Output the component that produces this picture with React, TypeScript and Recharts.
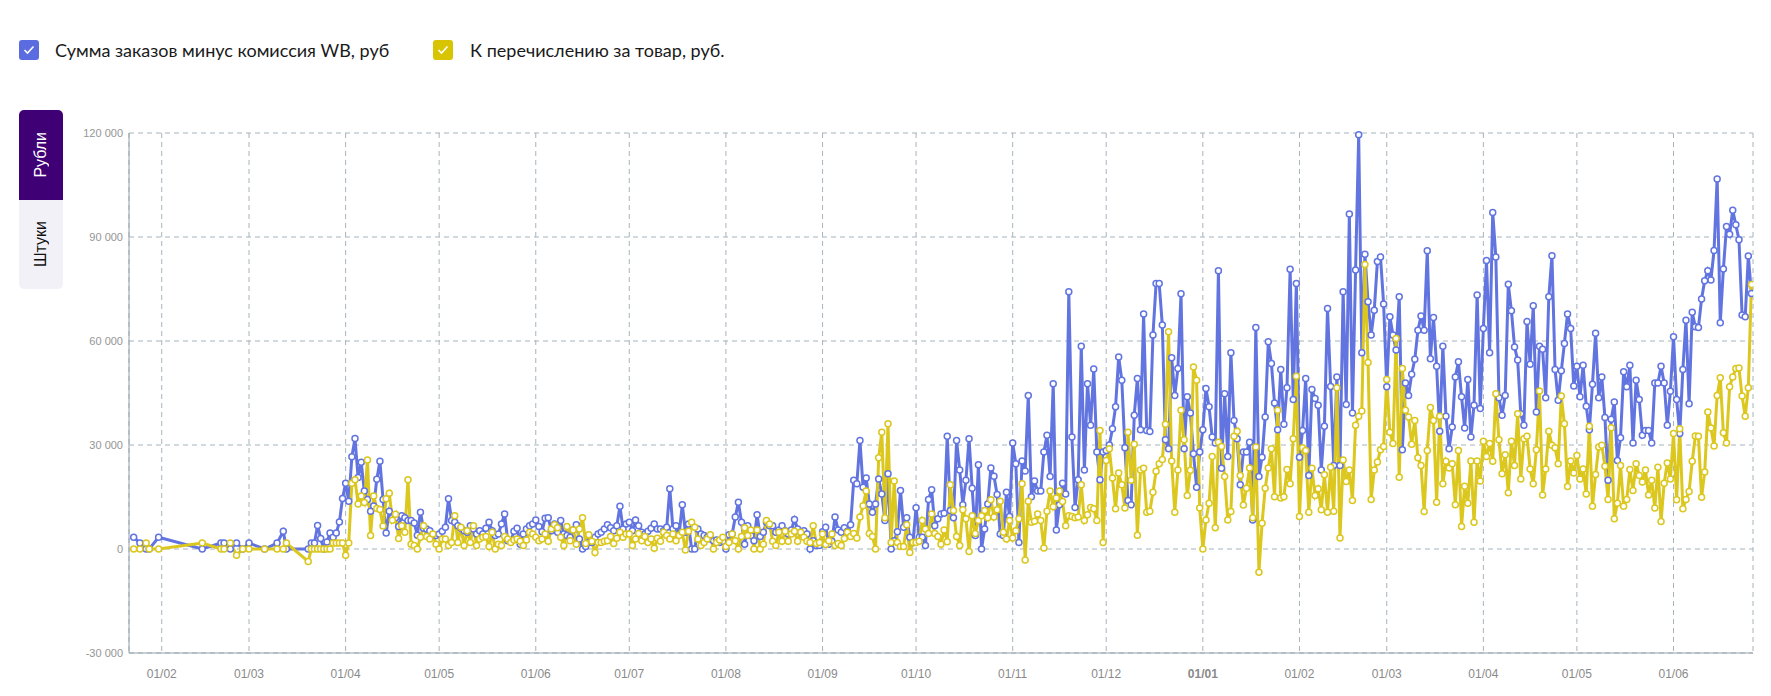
import React from 'react';
import { LineChart, Line, XAxis, YAxis, CartesianGrid } from 'recharts';

type V = number | null;
const _ = null;

// ---- data (rubles), one array per month; null = no data that day ----
// January 2022 starts on the 22nd
const blueJan22: V[] = [_, 3400, _, 1700, _, 0, 0, _, _, 3400];
const yellowJan22: V[] = [_, 0, _, 0, _, 1700, 0, _, _, 0];

const blueFeb22: V[] = [_, _, _, _, _, _, _, _, _, _, _, _, _, 0, _, _, _, _, _, 1700, 1700, _, 0, _, 1700, _, 0, _];
const yellowFeb22: V[] = [_, _, _, _, _, _, _, _, _, _, _, _, _, 1700, _, _, _, _, _, 0, 0, _, 1700, _, -1800, _, 0, _];

const blueMar22: V[] = [1700, _, _, _, _, 0, _, _, _, 1700, _, 5100, 0, _, _, _, _, _, _, 0, 1700, 1700, 6800, 3000, 0, 2000, 4600, 3400, 4600, 7800, 14600];
const yellowMar22: V[] = [0, _, _, _, _, 0, _, _, _, 0, _, 0, 1700, _, _, _, _, _, _, -3600, 0, 0, 0, 0, 0, 0, 0, 1700, 1700, 1700, 1700];

const blueApr22: V[] = [19000, 13800, 26600, 31900, 20600, 25000, 16700, 14300, 10900, 12400, 20100, 25300, 14300, 4600, 10900, 9000, 9000, 6500, 9600, 9000, 8200, 8200, 7500, 4000, 10600, 6000, 5800, 5300, 4000, 3900];
const yellowApr22: V[] = [-1800, 1700, 19000, 20000, 13000, 15300, 13400, 25700, 3900, 15300, 11700, 11400, 6600, 14500, 16100, 8300, 10000, 3000, 6700, 4800, 20000, 1400, 1000, 0, 3400, 6700, 3600, 2900, 4300, 1400];

const blueMay22: V[] = [4300, 5100, 6300, 14500, 8200, 7700, 6700, 6000, 5300, 4800, 6700, 5800, 4300, 5300, 4300, 6000, 7700, 5300, 3900, 4300, 7200, 10100, 2400, 2200, 5100, 6000, 1400, 4300, 5800, 6700, 7200];
const yellowMay22: V[] = [0, 2900, 2900, 1000, 1900, 9600, 1900, 6300, 1000, 5300, 1900, 6700, 1000, 2900, 3400, 3600, 700, 4800, 0, 1400, 1000, 3600, 2900, 1900, 2600, 2900, 2200, 1000, 2600, 4800, 4300];

const blueJun22: V[] = [8400, 6500, 5000, 8900, 9000, 5300, 7200, 4800, 8200, 4300, 3900, 3400, 5500, 7000, 2900, 0, 700, 1900, 1900, 3400, 4300, 4800, 5800, 7000, 6100, 5300, 6700, 12300, 5800, 7200];
const yellowJun22: V[] = [3400, 2400, 2900, 4300, 2200, 5800, 7000, 6100, 3400, 1000, 6500, 2400, 5500, 1400, 5800, 9000, 1600, 4100, 2200, -1000, 1900, 1900, 2200, 2400, 3600, 1600, 3100, 4800, 3400, 4300];

const blueJul22: V[] = [7700, 5300, 8400, 6700, 4800, 4300, 5100, 6000, 7200, 5800, 5800, 5300, 6300, 17400, 5800, 6700, 4300, 12800, 4800, 7200, 0, 0, 5800, 4300, 3900, 3400, 2900, 2400, 2600, 1900, 2200];
const yellowJul22: V[] = [4300, 1000, 2900, 4500, 2400, 3600, 1900, 2900, 200, 3100, 2200, 4800, 3900, 2900, 4300, 2400, 3900, 4800, -300, 5100, 7700, 6300, 2900, 1000, 1900, 2900, 4100, 0, 1900, 2600, 3400];

const blueAug22: V[] = [0, 4100, 4300, 9200, 13500, 7700, 1400, 6700, 3800, 2400, 9900, 3600, 4800, 7700, 6700, 6700, 4800, 5500, 6700, 5300, 4300, 5500, 8500, 5800, 4800, 5300, 4300, 0, 2400, 1000, 1000];
const yellowAug22: V[] = [700, 1900, 4300, 2400, 0, 3600, 6100, 3900, 5500, 0, 5500, 0, 1400, 8200, 7200, 2200, 1000, 4800, 2200, 5100, 2200, 4300, 5100, 2200, 4800, 3400, 2200, 1900, 6700, 1600, 1900];

const blueSep22: V[] = [5000, 6300, 1400, 2200, 9200, 5500, 4800, 6100, 5100, 7000, 19800, 18800, 31300, 17800, 20500, 13000, 10600, 13000, 20200, 15900, 8200, 21700, 0, 2400, 5000, 16900, 6300, 9000, 3400, 1900];
const yellowSep22: V[] = [4300, 1300, 2400, 4300, 1000, 1600, 1000, 3000, 4800, 3600, 4500, 3200, 9200, 12500, 16700, 4500, 3600, 0, 26300, 33700, 9000, 36100, 1900, 19600, 1900, 700, 700, 7000, -1000, 1900];

const blueOct22: V[] = [11900, 3400, 3400, 1000, 14300, 17100, 6700, 8700, 10100, 10300, 32500, 11100, 9000, 31300, 22800, 12800, 19800, 31800, 17500, 3900, 24300, 0, 5800, 13000, 23400, 21000, 15700, 4300, 3900, 16400, 9400];
const yellowOct22: V[] = [1900, 2200, 8200, 5800, 4500, 10100, 4500, 3600, 1400, 5500, 2100, 18500, 11100, 3600, 1000, 11300, 8700, -700, 9600, 4500, 8200, 9600, 11100, 9000, 14200, 9200, 11300, 13800, 4800, 2900, 8200];

const blueNov22: V[] = [30600, 24600, 1900, 25400, 22500, 44300, 15100, 19600, 16700, 16700, 28000, 32800, 20900, 47700, 5500, 12800, 19000, 15900, 74200, 32300, 12000, 20000, 58500, 22800, 47700, 35700, 51900, 28000, 20000, 28000];
const yellowNov22: V[] = [3200, 5300, 8700, 18800, -3200, 13800, 7700, 8000, 10100, 8200, 300, 10900, 16700, 12200, 14700, 16700, 13700, 6700, 9600, 9400, 9000, 9200, 18500, 8200, 9900, 12000, 11600, 8200, 34200, 1900];

const blueDec22: V[] = [28400, 30000, 34700, 41000, 55400, 48700, 29200, 14000, 12800, 38600, 49200, 34400, 67800, 34200, 33900, 61700, 76600, 76600, 64600, 31500, 28900, 55200, 44300, 52100, 73600, 28900, 43900, 39200, 27500, 17800, 28000];
const yellowDec22: V[] = [25500, 28900, 20500, 11600, 21900, 18500, 11800, 33700, 19800, 30200, 4000, 22800, 23300, 10600, 10900, 16400, 22400, 24600, 25800, 36000, 62700, 25400, 10600, 22800, 40000, 31500, 15400, 22700, 52500, 48700, 11800];

const blueJan23: V[] = [34400, 46300, 41000, 32300, 30600, 80300, 23300, 44800, 26700, 56600, 37100, 31800, 18500, 28000, 28000, 30800, 8400, 63900, 20900, 26500, 38100, 59800, 53500, 42100, 34400, 51800, 36000, 46500, 80700, 43100, 76600];
const yellowJan23: V[] = [0, 8400, 13200, 26700, 6100, 30800, 29600, 20900, 8400, 10800, 32500, 34000, 21200, 12700, 17500, 23400, 9000, 29400, -6700, 7400, 17500, 23400, 28900, 15100, 40000, 14700, 15100, 22900, 18800, 31800, 49800];

const blueFeb23: V[] = [26500, 34200, 49200, 21200, 46000, 43400, 41500, 22800, 35400, 69400, 46900, 24100, 49600, 24100, 74200, 41700, 96600, 39200, 80500, 119500, 56600, 85000, 71300, 61700, 68900, 82900, 84200, 70700];
const yellowFeb23: V[] = [9400, 29200, 28400, 10600, 23300, 15400, 17400, 11300, 21400, 10600, 23600, 10900, 46500, 3200, 25700, 19500, 22800, 14000, 35700, 38300, 39800, 82100, 53800, 14300, 22800, 25100, 28600, 29600];

const blueMar23: V[] = [46800, 67000, 61700, 57400, 72800, 28600, 47900, 44300, 50400, 54700, 63100, 67200, 63100, 86000, 54900, 66800, 52700, 34000, 58500, 38300, 28900, 35200, 49600, 54000, 43900, 34900, 48900, 32300, 41500, 73300, 40500];
const yellowMar23: V[] = [48900, 33700, 30400, 60700, 20700, 52100, 40000, 38100, 30200, 37100, 26300, 24100, 10800, 28400, 40800, 37100, 13500, 38300, 18800, 25300, 23400, 24600, 12800, 28400, 6500, 18100, 13200, 25400, 7700, 25400, 19600];

const blueApr23: V[] = [63600, 83200, 56600, 97100, 84200, 43600, 38600, 44300, 76400, 68700, 58300, 54500, 39000, 35700, 65600, 53300, 70200, 39500, 58500, 57600, 43600, 72800, 84600, 51800, 42900, 51400, 59300, 67800, 63600, 47000];
const yellowApr23: V[] = [31100, 26700, 30400, 25300, 44800, 31500, 21700, 27200, 16200, 31100, 24100, 39000, 20200, 31800, 32500, 23100, 18800, 28600, 45600, 15600, 23100, 34000, 29900, 29200, 24600, 44100, 36100, 18000, 25400, 21900];

const blueMay23: V[] = [52700, 43900, 53000, 41200, 34400, 47500, 62200, 43600, 49600, 37900, 19800, 37400, 42400, 25500, 32100, 51100, 46800, 53000, 30600, 48700, 43100, 32800, 34200, 34200, 30600, 47900, 47900, 52700, 47900, 35700, 45500];
const yellowMay23: V[] = [27000, 20200, 23100, 15900, 35400, 12300, 21500, 29400, 29900, 23900, 14300, 35000, 8700, 13200, 24100, 12300, 14300, 22900, 16900, 24600, 21200, 19300, 22800, 15600, 19800, 11800, 23600, 7900, 19000, 24800, 20200];

const blueJun23: V[] = [61200, 43100, 33300, 51800, 66000, 41900, 68300, 64100, 63900, 72100, 77400, 80300, 77600, 86100, 106700, 65300, 80800, 93000, 90800, 97700, 93500, 89200, 67500, 67000, 84500, 73700];
const yellowJun23: V[] = [33300, 14200, 34700, 11600, 14300, 16600, 25300, 32600, 32500, 14900, 22200, 39500, 34900, 29700, 44300, 49400, 33500, 30600, 46800, 49600, 52100, 52200, 44100, 38300, 46500, 76300];

// first day of each monthly array: [year, monthIndex, day]
const monthStarts: [number, number, number][] = [
  [2022, 0, 22], [2022, 1, 1], [2022, 2, 1], [2022, 3, 1], [2022, 4, 1], [2022, 5, 1],
  [2022, 6, 1], [2022, 7, 1], [2022, 8, 1], [2022, 9, 1], [2022, 10, 1], [2022, 11, 1],
  [2023, 0, 1], [2023, 1, 1], [2023, 2, 1], [2023, 3, 1], [2023, 4, 1], [2023, 5, 1],
];
const blueMonths = [blueJan22, blueFeb22, blueMar22, blueApr22, blueMay22, blueJun22, blueJul22, blueAug22, blueSep22, blueOct22, blueNov22, blueDec22, blueJan23, blueFeb23, blueMar23, blueApr23, blueMay23, blueJun23];
const yellowMonths = [yellowJan22, yellowFeb22, yellowMar22, yellowApr22, yellowMay22, yellowJun22, yellowJul22, yellowAug22, yellowSep22, yellowOct22, yellowNov22, yellowDec22, yellowJan23, yellowFeb23, yellowMar23, yellowApr23, yellowMay23, yellowJun23];

const yTicks = [-30000, 0, 30000, 60000, 90000, 120000];
const seriesNames = ['Сумма заказов минус комиссия WB, руб', 'К перечислению за товар, руб.'];
const tabLabels = ['Рубли', 'Штуки'];

const DAY = 86400000;
const data: { t: number; blue: V; yellow: V }[] = [];
monthStarts.forEach(([y, m, d0], k) => {
  blueMonths[k].forEach((b, i) => {
    const yv = yellowMonths[k][i];
    if (b === null && yv === null) return;
    data.push({ t: Date.UTC(y, m, d0 + i), blue: b, yellow: yv });
  });
});
const xTicks = monthStarts.slice(1).map(([y, m]) => Date.UTC(y, m, 1));
const xDomain = [Date.UTC(2022, 0, 22) - DAY / 2, Date.UTC(2023, 5, 26) + DAY / 2];

const BLUE = '#6174e0';
const YELLOW = '#dbc71e';
const BLUE_BOX = '#5a6ce0';
const YELLOW_BOX = '#d8c400';

const fmtY = (v: number) => String(v).replace(/\B(?=(\d{3})+(?!\d))/g, ' ');

const XTick = (props: any) => {
  const { x, y, payload } = props;
  const mo = new Date(payload.value).getUTCMonth() + 1;
  return (
    <text x={x} y={y} dy="0.71em" textAnchor="middle" fill="#8a8a8a" fontSize={12}
      fontFamily="'Liberation Sans', Arial, sans-serif" fontWeight={mo === 1 ? 700 : 400}>
      {'01/' + String(mo).padStart(2, '0')}
    </text>
  );
};

const Check = ({ color }: { color: string }) => (
  <div style={{ width: 20, height: 20, borderRadius: 3, background: color, display: 'flex', alignItems: 'center', justifyContent: 'center' }}>
    <svg width="12" height="10" viewBox="0 0 12 10">
      <polyline points="1.5,5 4.5,8 10.5,1.5" fill="none" stroke="#fff" strokeWidth="1.6" />
    </svg>
  </div>
);

export default function App() {
  return (
    <div style={{ position: 'fixed', left: 0, top: 0, width: 1771, height: 696, background: '#fff', overflow: 'hidden' }}>
      {/* legend */}
      <div style={{ position: 'absolute', left: 19, top: 40, height: 20, display: 'flex', alignItems: 'center' }}>
        <Check color={BLUE_BOX} />
        <span style={{ marginLeft: 16, fontFamily: 'Lato, sans-serif', fontSize: 18, color: '#1a1a1a' }}>{seriesNames[0]}</span>
      </div>
      <div style={{ position: 'absolute', left: 433, top: 40, height: 20, display: 'flex', alignItems: 'center' }}>
        <Check color={YELLOW_BOX} />
        <span style={{ marginLeft: 17, fontFamily: 'Lato, sans-serif', fontSize: 18, color: '#1a1a1a' }}>{seriesNames[1]}</span>
      </div>
      {/* tabs */}
      <div style={{ position: 'absolute', left: 19, top: 110, width: 44, height: 179, borderRadius: 5, overflow: 'hidden' }}>
        <div style={{ height: 90, background: '#3f0075', display: 'flex', alignItems: 'center', justifyContent: 'center' }}>
          <span style={{ writingMode: 'vertical-rl', transform: 'rotate(180deg)', color: '#fff', fontFamily: "'Liberation Sans', Arial, sans-serif", fontSize: 16 }}>{tabLabels[0]}</span>
        </div>
        <div style={{ height: 89, background: '#f2f1f7', display: 'flex', alignItems: 'center', justifyContent: 'center' }}>
          <span style={{ writingMode: 'vertical-rl', transform: 'rotate(180deg)', color: '#111', fontFamily: "'Liberation Sans', Arial, sans-serif", fontSize: 16 }}>{tabLabels[1]}</span>
        </div>
      </div>
      {/* chart */}
      <div style={{ position: 'absolute', left: 0, top: 0 }}>
        <LineChart width={1771} height={696} data={data} margin={{ top: 133, right: 18, bottom: 13, left: 69 }}>
          <CartesianGrid stroke="#a6b4bd" strokeDasharray="5 4" />
          <XAxis dataKey="t" type="number" scale="time" domain={xDomain} ticks={xTicks} height={30}
            tick={<XTick />} tickLine={false} tickSize={6} tickMargin={10} interval={0}
            axisLine={{ stroke: '#93a1aa' }} allowDataOverflow />
          <YAxis type="number" domain={[-30000, 120000]} ticks={yTicks} width={60} tickFormatter={fmtY}
            tickLine={false} tickSize={6} tickMargin={0} axisLine={{ stroke: '#93a1aa' }} interval={0}
            tick={{ fill: '#959595', fontSize: 11, fontFamily: "'Liberation Sans', Arial, sans-serif" }} />
          <Line dataKey="blue" stroke={BLUE} strokeWidth={3} connectNulls isAnimationActive={false}
            dot={{ r: 3, fill: '#fff', stroke: BLUE, strokeWidth: 1.5 }} activeDot={false} />
          <Line dataKey="yellow" stroke={YELLOW} strokeWidth={3} connectNulls isAnimationActive={false}
            dot={{ r: 3, fill: '#fff', stroke: YELLOW, strokeWidth: 1.5 }} activeDot={false} />
        </LineChart>
      </div>
    </div>
  );
}
